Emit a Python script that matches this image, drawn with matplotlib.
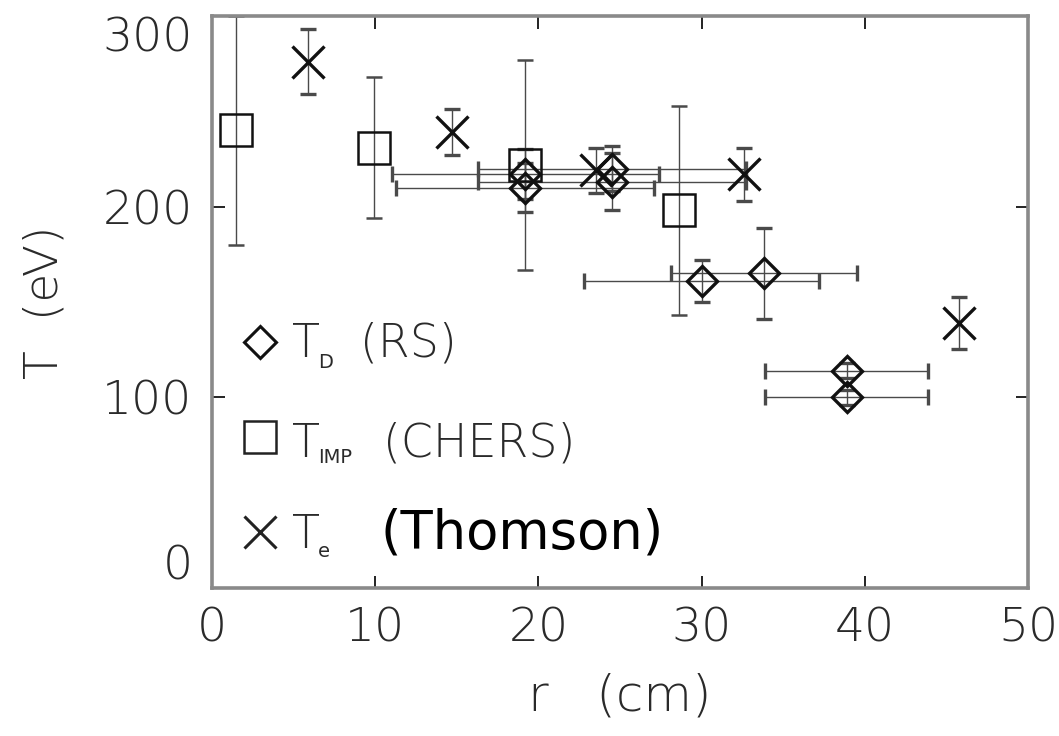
import matplotlib
matplotlib.use("Agg")
import numpy as np
import matplotlib.pyplot as plt

# T_D (RS) diamonds
rs_r = [19.2, 19.2, 24.5, 24.5, 30.0, 33.8, 38.9, 38.9]
rs_T = [217, 210, 220, 213, 161, 165, 114, 100]
rs_rerr = [8.2, 7.9, 8.2, 8.2, 7.2, 5.7, 5.0, 5.0]
rs_Terr = [13, 13, 12, 15, 11, 24, 4, 4]

# T_IMP (CHERS) squares
chers_r = [1.5, 9.9, 19.2, 28.6]
chers_T = [240, 231, 222, 198]
chers_Terr = [60, 37, 55, 55]

# T_e (Thomson) crosses
th_r = [5.9, 14.7, 23.5, 32.6, 45.8]
th_T = [276, 239, 219, 217, 139]
th_Terr = [17, 12, 12, 14, 13.5]

xticks = [0, 10, 20, 30, 40, 50]
yticks = [0, 100, 200, 300]

W, H = 1059, 736
plt.rcParams['font.family'] = ['DejaVu Sans']

fig = plt.figure(figsize=(W / 100, H / 100), dpi=100)
ax = fig.add_axes([212 / W, 1 - 588 / H, 816 / W, 572 / H])

ecol = '#4a4a4a'
eb = dict(ecolor=ecol, elinewidth=1.0, capsize=6, capthick=1.0, linestyle='none')

ax.errorbar(chers_r, chers_T, yerr=chers_Terr, marker='s', ms=23, mfc='none',
            mec='#111', mew=1.8, **eb)
ax.errorbar(th_r, th_T, yerr=th_Terr, marker='x', ms=23, mec='#111', mew=2.4, **eb)
ax.errorbar(rs_r, rs_T, xerr=rs_rerr, yerr=rs_Terr, marker='D', ms=15, mfc='none',
            mec='#111', mew=2.4, **eb)

ax.set_xlim(0, 50)
ax.set_ylim(0, 300)
ax.set_xticks(xticks)
ax.set_yticks(yticks)
ax.tick_params(direction='in', length=9, width=1.4, color='#222', top=True, right=True,
               labelsize=34, labelcolor='#2a2a2a', pad=14)
ax.tick_params(axis='x', pad=13)
for lab in ax.get_xticklabels() + ax.get_yticklabels():
    lab.set_fontweight('light')
ylabs = ax.get_yticklabels()
ylabs[0].set_va('bottom')
ylabs[-1].set_va('top')

for sp in ax.spines.values():
    sp.set_color('#8a8a8a')
    sp.set_linewidth(2.6)

ax.set_xlabel('r   (cm)', fontsize=36, color='#2a2a2a', fontweight='light', labelpad=16)
ax.set_ylabel('T  (eV)', fontsize=34, color='#2a2a2a', fontweight='light', labelpad=26)

# legend drawn by hand
mx = 0.0588
ax.plot([mx], [0.430], marker='D', ms=16, mfc='none', mec='#111', mew=2.2,
        transform=ax.transAxes, clip_on=False)
ax.plot([mx], [0.264], marker='s', ms=23, mfc='none', mec='#222', mew=1.8,
        transform=ax.transAxes, clip_on=False)
ax.plot([mx], [0.0984], marker='x', ms=23, mec='#222', mew=2.2,
        transform=ax.transAxes, clip_on=False)

tk = dict(transform=ax.transAxes, va='baseline', ha='left', color='#2a2a2a')
rows = [(0.4044, 0.3846, 'D', '(RS)', 0.1814),
        (0.2295, 0.2185, 'IMP', '(CHERS)', 0.2096),
        (0.0699, 0.0542, 'e', None, None)]
for yb, ys, sub, desc, xd in rows:
    ax.text(0.0977, yb, 'T', fontsize=33, fontweight='light', **tk)
    ax.text(0.1299, ys, sub, fontsize=14, **tk)
    if desc:
        ax.text(xd, yb, desc, fontsize=33, fontweight='light', **tk)
ax.text(0.2059, 0.0699, '(Thomson)', fontsize=38, family='DejaVu Sans',
        color='black', transform=ax.transAxes, va='baseline', ha='left')

fig.savefig('out.png', dpi=100)
